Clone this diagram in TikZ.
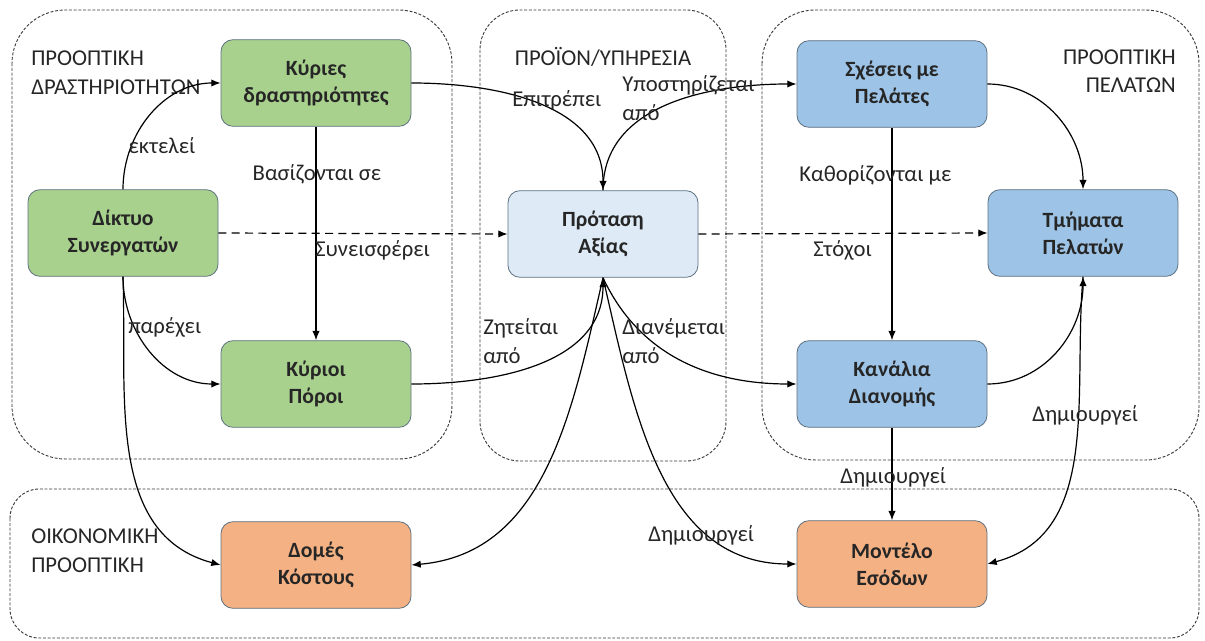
\documentclass[tikz,border=0pt]{standalone}
\usepackage{fontspec}
\setmainfont{Carlito}
\usetikzlibrary{arrows.meta}

\definecolor{actgreen}{HTML}{A9D18E}
\definecolor{valblue}{HTML}{DEEBF7}
\definecolor{custblue}{HTML}{9DC3E6}
\definecolor{finorange}{HTML}{F4B183}
\definecolor{boxline}{HTML}{5E7180}
\definecolor{inktext}{HTML}{262626}
\definecolor{groupline}{HTML}{3A3A3A}

\tikzset{
  block/.style={draw=boxline, line width=0.6pt, rounded corners=9pt,
    minimum width=142.5pt, minimum height=65pt, align=center,
    font=\fontsize{16.3}{20.3}\selectfont\bfseries, text=inktext},
  greenblock/.style={block, fill=actgreen},
  valueblock/.style={block, fill=valblue},
  blueblock/.style={block, fill=custblue},
  orangeblock/.style={block, fill=finorange},
  group/.style={draw=groupline, line width=0.7pt, dash pattern=on 2.2pt off 1.3pt},
  grouplabel/.style={font=\fontsize{17}{21.5}\selectfont, text=inktext, inner sep=0pt},
  edgelabel/.style={font=\fontsize{17}{21.5}\selectfont, text=inktext, inner sep=0pt},
  link/.style={draw=black, line width=0.9pt, -{Latex[length=7pt,width=5.5pt]}},
  dashedlink/.style={link, dash pattern=on 6pt off 4pt}
}

\begin{document}
\begin{tikzpicture}[x=0.75pt,y=-0.75pt]
  \useasboundingbox (0,0) rectangle (1205,641);

  % perspective groups
  \draw[group, rounded corners=40pt] (12,10) rectangle (452,459);
  \draw[group, rounded corners=30pt] (480,10) rectangle (726,461);
  \draw[group, rounded corners=40pt] (762,10) rectangle (1199,460);
  \draw[group, rounded corners=22pt] (10,489) rectangle (1199,638);

  \node[grouplabel, anchor=west, align=left] (gAct) at (31,73) {ΠΡΟΟΠΤΙΚΗ\\ΔΡΑΣΤΗΡΙΟΤΗΤΩΝ};
  \node[grouplabel] (gProd) at (603,57) {ΠΡΟΪΟΝ/ΥΠΗΡΕΣΙΑ};
  \node[grouplabel, anchor=east, align=right] (gCust) at (1176,71) {ΠΡΟΟΠΤΙΚΗ\\ΠΕΛΑΤΩΝ};
  \node[grouplabel, anchor=west, align=left] (gFin) at (31,551) {ΟΙΚΟΝΟΜΙΚΗ\\ΠΡΟΟΠΤΙΚΗ};

  % building blocks
  \node[greenblock] (KA) at (316,83) {Κύριες\\δραστηριότητες};
  \node[greenblock] (KP) at (123,233) {Δίκτυο\\Συνεργατών};
  \node[greenblock] (KR) at (316,384) {Κύριοι\\Πόροι};
  \node[orangeblock] (CS) at (316,565) {Δομές\\Κόστους};
  \node[valueblock] (VP) at (603,234) {Πρόταση\\Αξίας};
  \node[blueblock] (CR) at (892,84) {Σχέσεις με\\Πελάτες};
  \node[blueblock] (SG) at (1083,233) {Τμήματα\\Πελατών};
  \node[blueblock] (CH) at (892,384) {Κανάλια\\Διανομής};
  \node[orangeblock] (RS) at (892,564) {Μοντέλο\\Εσόδων};

  % relations
  \draw[link] (KP.north) to[out=90,in=180] (KA.west);
  \draw[link] (KA.east) to[out=0,in=90] (VP.north);
  \draw[link] (VP.north) to[out=90,in=180] (CR.west);
  \draw[link] (KA.south) -- (KR.north);
  \draw[dashedlink] (KP.east) -- (VP.west);
  \draw[dashedlink] (VP.east) -- (SG.west);
  \draw[link] (KP.south) to[out=-90,in=180] (KR.west);
  \draw[link] (KP.south) to[out=-88,in=165] (CS.west);
  \draw[link] (KR.east) to[out=0,in=-90] (VP.south);
  \draw[link] (VP.south) to[out=-65,in=180] (CH.west);
  \draw[link] (VP.south) to[out=-103,in=5] (CS.east);
  \draw[link] (VP.south) to[out=-77,in=180] (RS.west);
  \draw[link] (CR.east) to[out=0,in=90] (SG.north);
  \draw[link] (CR.south) -- (CH.north);
  \draw[link] (CH.east) to[out=0,in=-90] (SG.south);
  \draw[link] (CH.south) -- (RS.north);
  \draw[link] (SG.south) to[out=-95,in=15] (RS.east);

  % relation labels
  \node[edgelabel] (lRun) at (162,146) {εκτελεί};
  \node[edgelabel] (lBase) at (317,174) {Βασίζονται σε};
  \node[edgelabel, anchor=west] (lGive) at (315,250) {Συνεισφέρει};
  \node[edgelabel, anchor=west] (lProv) at (128,327) {παρέχει};
  \node[edgelabel, anchor=west] (lAllow) at (512,100) {Επιτρέπει};
  \node[edgelabel, anchor=west, align=left] (lSupp) at (622,98) {Υποστηρίζεται\\από};
  \node[edgelabel, anchor=west, align=left] (lAsk) at (483,341) {Ζητείται\\από};
  \node[edgelabel, anchor=west, align=left] (lDist) at (622,341) {Διανέμεται\\από};
  \node[edgelabel, anchor=west] (lMakeA) at (648,535) {Δημιουργεί};
  \node[edgelabel, anchor=west] (lDef) at (799,175) {Καθορίζονται με};
  \node[edgelabel, anchor=west] (lAim) at (813,250) {Στόχοι};
  \node[edgelabel, anchor=west] (lMakeB) at (840,477) {Δημιουργεί};
  \node[edgelabel, anchor=west] (lMakeC) at (1032,415) {Δημιουργεί};
\end{tikzpicture}
\end{document}
